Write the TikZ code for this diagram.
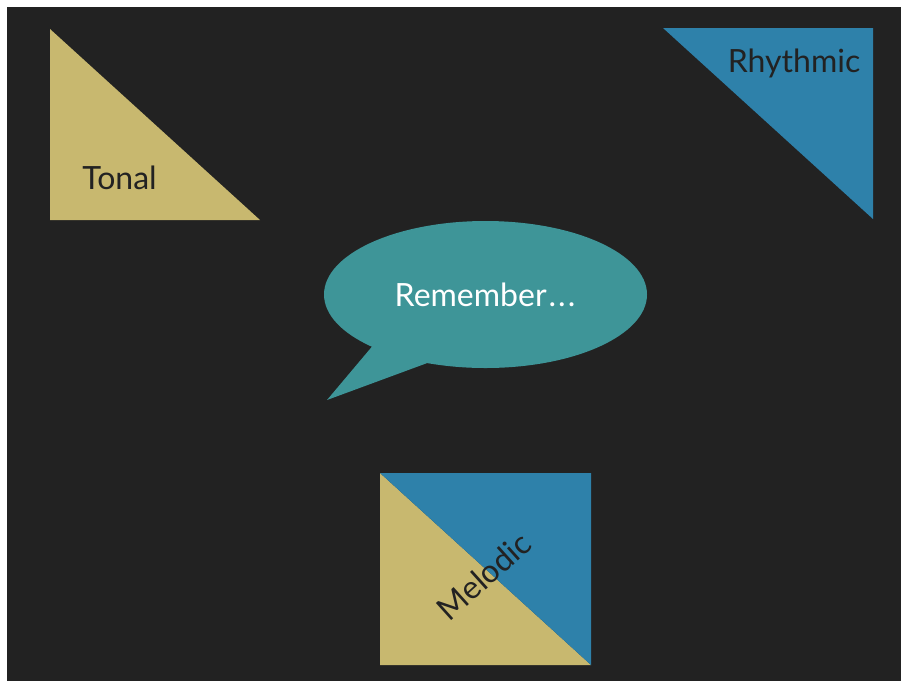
\documentclass[tikz,border=0pt]{standalone}
\usepackage{fontspec}
\setmainfont{Lato}
\usetikzlibrary{shapes.geometric}
\definecolor{bgdark}{HTML}{222222}
\definecolor{tan}{HTML}{C8B86F}
\definecolor{steel}{HTML}{2E81AA}
\definecolor{tealc}{HTML}{3E9598}
\tikzset{
  lbl/.style={font=\fontsize{32}{38}\selectfont, text=bgdark, inner sep=0pt},
}
\begin{document}
\begin{tikzpicture}[x=1pt,y=-1pt]
\useasboundingbox (0,0) rectangle (901,681);
\fill[white] (0,0) rectangle (901,681);
\fill[bgdark] (7,7) rectangle (901,681);
% Tonal
\fill[tan] (50,29) -- (50,220) -- (260,220) -- cycle;
\node[lbl] (tonal) at (119.5,178) {Tonal};
% Rhythmic
\fill[steel] (663,28) -- (873,28) -- (873,219) -- cycle;
\node[lbl] (rhythmic) at (794,63) {Rhythmic};
% Speech bubble
\node[ellipse, fill=tealc, minimum width=323pt, minimum height=147pt, inner sep=0pt] (bubble) at (485.5,294.5) {};
\fill[tealc] (375,343) -- (327,400) -- (430,362) -- (440,330) -- cycle;
\node[font=\fontsize{32}{38}\selectfont, text=white, inner sep=0pt] (remember) at (485,295) {Remember\kern2pt.\kern2pt.\kern2pt.};
% Melodic
\fill[tan] (380,473) -- (380,665) -- (591,665) -- cycle;
\fill[steel] (380,473) -- (591,473) -- (591,665) -- cycle;
\node[lbl, rotate=42] (melodic) at (484,576) {Melodic};
\end{tikzpicture}
\end{document}
